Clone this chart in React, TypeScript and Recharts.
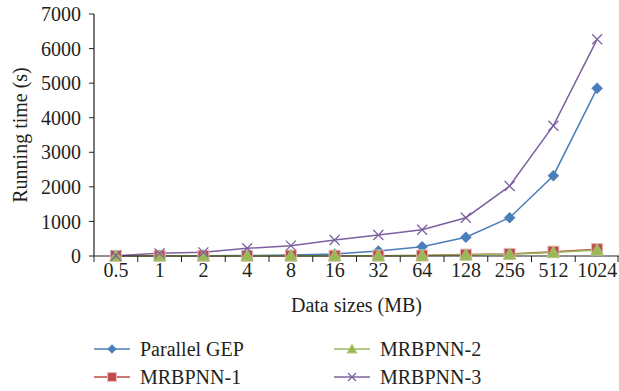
import React from 'react';
import { LineChart, Line, XAxis, YAxis, Legend } from 'recharts';

const categories = ['0.5', '1', '2', '4', '8', '16', '32', '64', '128', '256', '512', '1024'];
const parallelGEP = [2, 5, 8, 15, 30, 58, 145, 269, 541, 1108, 2323, 4851];
const mrbpnn1 = [3, 4, 5, 6, 7, 8, 10, 14, 40, 60, 125, 198];
const mrbpnn2 = [2, 3, 4, 5, 6, 7, 9, 12, 30, 50, 100, 170];
const mrbpnn3 = [10, 77, 106, 222, 299, 463, 607, 761, 1108, 2025, 3770, 6268];
const yTicks = [0, 1000, 2000, 3000, 4000, 5000, 6000, 7000];

const data = categories.map((c, i) => ({
  size: c,
  pgep: parallelGEP[i],
  m1: mrbpnn1[i],
  m2: mrbpnn2[i],
  m3: mrbpnn3[i],
}));

const FONT = '"Liberation Serif", "DejaVu Serif", serif';
const FS = 20;
const TEXT = '#231f20';
const BLUE = '#4a7ebb';
const RED = '#be4b48';
const GREEN = '#98b954';
const PURPLE = '#7d60a0';

const Diamond = (props: any) => {
  const { cx, cy, s = 1 } = props;
  if (cx == null || cy == null) return null;
  const r = 5.5 * s;
  return <path d={`M${cx},${cy - r}L${cx + r},${cy}L${cx},${cy + r}L${cx - r},${cy}Z`} fill={BLUE} stroke={BLUE} strokeWidth={0.5} />;
};
const Square = (props: any) => {
  const { cx, cy, s = 1 } = props;
  if (cx == null || cy == null) return null;
  const r = 5.5 * s;
  return <rect x={cx - r} y={cy - r} width={2 * r} height={2 * r} fill={RED} stroke="#e6b9b8" strokeWidth={1} />;
};
const Triangle = (props: any) => {
  const { cx, cy, s = 1 } = props;
  if (cx == null || cy == null) return null;
  const r = 6.5 * s;
  return <path d={`M${cx},${cy - r}L${cx + r},${cy + r * 0.8}L${cx - r},${cy + r * 0.8}Z`} fill={GREEN} stroke="#c3d69b" strokeWidth={0.5} />;
};
const Cross = (props: any) => {
  const { cx, cy, s = 1 } = props;
  if (cx == null || cy == null) return null;
  const r = 5 * s;
  return (
    <g stroke={PURPLE} strokeWidth={1.3}>
      <line x1={cx - r} y1={cy - r} x2={cx + r} y2={cy + r} />
      <line x1={cx - r} y1={cy + r} x2={cx + r} y2={cy - r} />
    </g>
  );
};

const series = [
  { key: 'pgep', name: 'Parallel GEP', color: BLUE, dot: Diamond, col: 0, row: 0 },
  { key: 'm1', name: 'MRBPNN-1', color: RED, dot: Square, col: 0, row: 1 },
  { key: 'm2', name: 'MRBPNN-2', color: GREEN, dot: Triangle, col: 1, row: 0 },
  { key: 'm3', name: 'MRBPNN-3', color: PURPLE, dot: Cross, col: 1, row: 1 },
];

const XTick = (props: any) => {
  const { x, y, payload, index, visibleTicksCount } = props;
  const off = payload && typeof payload.offset === 'number' && payload.offset > 0 ? payload.offset : 21.875;
  const last = index === (visibleTicksCount ?? categories.length) - 1;
  return (
    <g>
      <line x1={x - off} y1={y} x2={x - off} y2={y + 6} stroke={TEXT} strokeWidth={1} />
      {last ? <line x1={x + off - 1} y1={y} x2={x + off - 1} y2={y + 6} stroke={TEXT} strokeWidth={1} /> : null}
      <text x={x} y={y + 7} dy="0.71em" textAnchor="middle" fill={TEXT} fontSize={FS} fontFamily={FONT}>
        {payload.value}
      </text>
    </g>
  );
};

const LegendContent = () => (
  <div style={{ position: 'relative', width: 619, height: 73, fontFamily: FONT, fontSize: FS, color: TEXT }}>
    {series.map((s) => {
      const Dot = s.dot;
      const left = s.col === 0 ? 94 : 334;
      const top = s.row === 0 ? 31 : 59;
      return (
        <div key={s.key} style={{ position: 'absolute', left, top: top - 14, height: 28, display: 'flex', alignItems: 'center', whiteSpace: 'nowrap' }}>
          <svg width={38} height={28} style={{ display: 'block' }}>
            <line x1={0} y1={14} x2={36} y2={14} stroke={s.color} strokeWidth={1.5} />
            <Dot cx={18} cy={14} s={0.8} />
          </svg>
          <span style={{ marginLeft: 8, lineHeight: '28px' }}>{s.name}</span>
        </div>
      );
    })}
  </div>
);

export default function App() {
  return (
    <div style={{ position: 'absolute', left: 0, top: 0, background: '#fff' }}>
      <LineChart width={619} height={391} data={data} margin={{ top: 14, right: 0, left: 0, bottom: 0 }}>
        <XAxis
          dataKey="size"
          scale="band"
          height={62}
          axisLine={{ stroke: TEXT, strokeWidth: 1.2 }}
          tickLine={false}
          tickSize={0}
          tickMargin={0}
          interval={0}
          tick={<XTick />}
          label={{ value: 'Data sizes (MB)', position: 'insideBottom', offset: 6, fill: TEXT, fontSize: FS, fontFamily: FONT }}
        />
        <YAxis
          domain={[0, 7000]}
          ticks={yTicks}
          width={94}
          interval={0}
          axisLine={{ stroke: TEXT, strokeWidth: 1.2 }}
          tickLine={{ stroke: TEXT }}
          tickSize={5}
          tickMargin={8}
          tick={{ fill: TEXT, fontSize: FS, fontFamily: FONT }}
          label={{ value: 'Running time (s)', angle: -90, position: 'insideLeft', offset: 20, style: { textAnchor: 'middle' }, fill: TEXT, fontSize: FS, fontFamily: FONT }}
        />
        <Legend verticalAlign="bottom" height={73} content={<LegendContent />} />
        {series.map((s) => (
          <Line
            key={s.key}
            dataKey={s.key}
            name={s.name}
            stroke={s.color}
            strokeWidth={1.5}
            dot={<s.dot />}
            activeDot={false}
            isAnimationActive={false}
          />
        ))}
      </LineChart>
    </div>
  );
}
